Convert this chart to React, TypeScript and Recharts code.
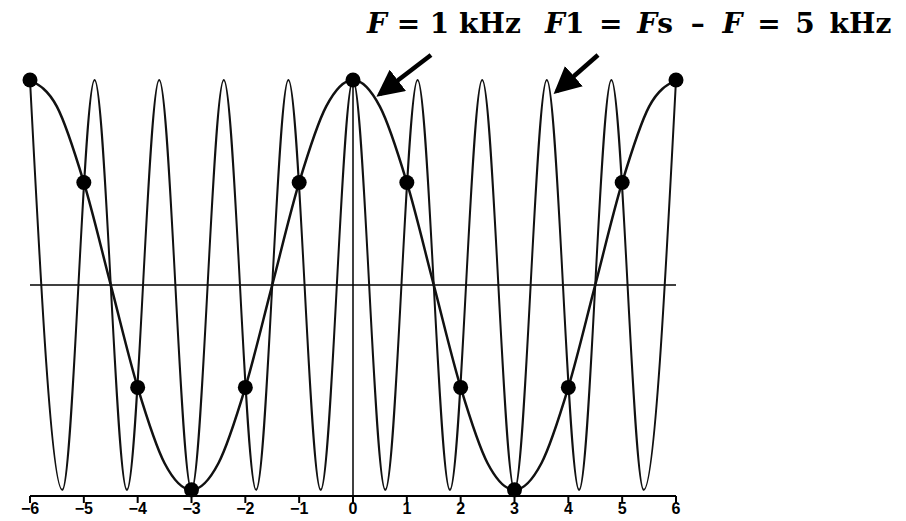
import { ComposedChart, Line, Scatter, XAxis, YAxis, ReferenceLine } from 'recharts';

const xTicks = [-6, -5, -4, -3, -2, -1, 0, 1, 2, 3, 4, 5, 6];

// sampled points (Fs = 6 kHz) on the 1 kHz wave
const sampleX = [-6, -5, -4, -3, -2, -1, 0, 1, 2, 3, 4, 5, 6];
const sampleValues = [1, 0.5, -0.5, -1, -0.5, 0.5, 1, 0.5, -0.5, -1, -0.5, 0.5, 1];

// F = 1 kHz curve, read every half unit
const slowX = [-6, -5.5, -5, -4.5, -4, -3.5, -3, -2.5, -2, -1.5, -1, -0.5, 0, 0.5, 1, 1.5, 2, 2.5, 3, 3.5, 4, 4.5, 5, 5.5, 6];
const slowValues = [1, 0.87, 0.5, 0, -0.5, -0.87, -1, -0.87, -0.5, 0, 0.5, 0.87, 1, 0.87, 0.5, 0, -0.5, -0.87, -1, -0.87, -0.5, 0, 0.5, 0.87, 1];

// F1 = 5 kHz curve, peaks and troughs
const fastX = [-6, -5.4, -4.8, -4.2, -3.6, -3, -2.4, -1.8, -1.2, -0.6, 0, 0.6, 1.2, 1.8, 2.4, 3, 3.6, 4.2, 4.8, 5.4, 6];
const fastValues = [1, -1, 1, -1, 1, -1, 1, -1, 1, -1, 1, -1, 1, -1, 1, -1, 1, -1, 1, -1, 1];

const slowData = slowX.map((x, i) => ({ x, y: slowValues[i] }));
const fastData = fastX.map((x, i) => ({ x, y: fastValues[i] }));
const sampleData = sampleX.map((x, i) => ({ x, y: sampleValues[i] }));

const titleStyle: React.CSSProperties = {
  position: 'absolute',
  top: 4,
  fontFamily: 'DejaVu Serif, serif',
  fontWeight: 'bold',
  fontSize: 28,
  color: '#000',
  whiteSpace: 'nowrap',
  lineHeight: '40px',
};

export default function App() {
  return (
    <div style={{ position: 'absolute', left: 0, top: 0, width: 906, height: 521, background: '#fff' }}>
      <ComposedChart width={906} height={521} margin={{ top: 80, right: 230, bottom: 0, left: 30 }}>
        <XAxis
          dataKey="x"
          type="number"
          domain={[-6, 6]}
          ticks={xTicks}
          axisLine={{ stroke: '#000', strokeWidth: 2 }}
          tickLine={{ stroke: '#000', strokeWidth: 2 }}
          tickSize={7}
          tickMargin={0}
          height={25}
          tickFormatter={(v) => String(v).replace('-', '\u2212')}
          tick={{ fill: '#000', fontSize: 16, fontWeight: 'bold', fontFamily: 'Liberation Sans, Arial, sans-serif' }}
        />
        <YAxis type="number" domain={[-1.03, 1]} hide width={0} />
        <ReferenceLine y={0} stroke="#000" strokeWidth={1.5} />
        <ReferenceLine x={0} stroke="#000" strokeWidth={1.5} />
        <Line
          data={fastData}
          dataKey="y"
          type="monotone"
          stroke="#111"
          strokeWidth={2}
          dot={false}
          isAnimationActive={false}
        />
        <Line
          data={slowData}
          dataKey="y"
          type="monotone"
          stroke="#111"
          strokeWidth={2.5}
          dot={false}
          isAnimationActive={false}
        />
        <Scatter
          data={sampleData}
          dataKey="y"
          fill="#000"
          shape={(p: any) => <circle cx={p.cx} cy={p.cy} r={7.5} fill="#000" />}
          isAnimationActive={false}
        />
      </ComposedChart>

      <div style={{ ...titleStyle, left: 367 }}>
        <i>F</i> = 1 kHz
      </div>
      <div style={{ ...titleStyle, left: 545, wordSpacing: 5 }}>
        <i>F</i>1 = <i>F</i>s <span style={{ margin: '0 3px' }}>–</span> <i>F</i> = 5 kHz
      </div>

      <svg width={906} height={521} style={{ position: 'absolute', left: 0, top: 0, pointerEvents: 'none' }}>
        <defs>
          <marker id="head" markerWidth="6" markerHeight="6" refX="5" refY="3" orient="auto" markerUnits="strokeWidth">
            <path d="M0,0 L6,3 L0,6 Z" fill="#000" />
          </marker>
        </defs>
        <line x1={431} y1={55} x2={380} y2={94} stroke="#000" strokeWidth={4.5} markerEnd="url(#head)" />
        <line x1={598} y1={55} x2={557} y2={91} stroke="#000" strokeWidth={4.5} markerEnd="url(#head)" />
      </svg>
    </div>
  );
}
